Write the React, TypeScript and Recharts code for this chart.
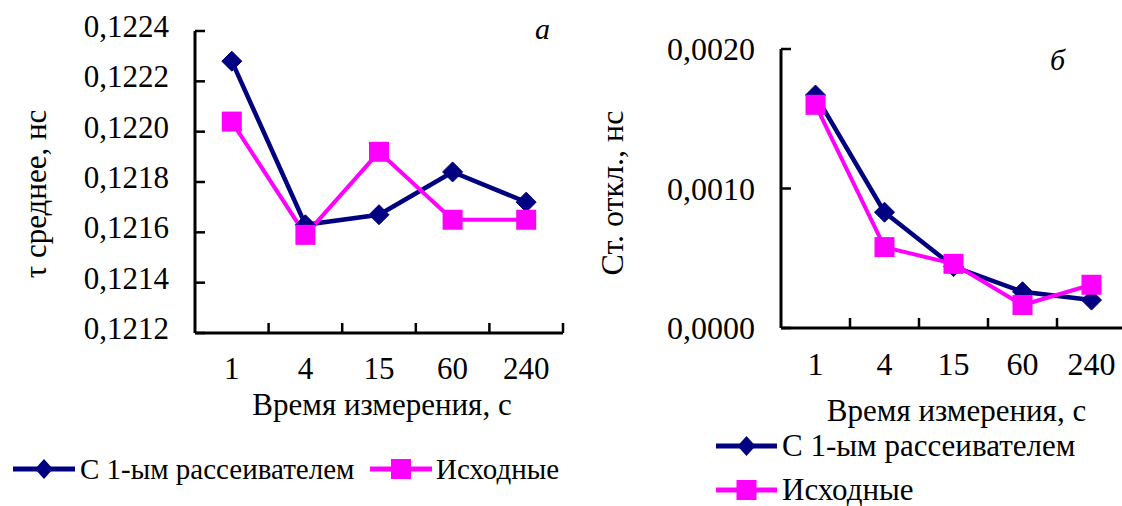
import React from 'react';
import { LineChart, Line, XAxis, YAxis, Legend, Label } from 'recharts';

// ---------- data ----------
const categories = ['1', '4', '15', '60', '240'];
const meanScatter = [0.12228, 0.12163, 0.12167, 0.12184, 0.12172];
const meanOriginal = [0.12204, 0.12159, 0.12192, 0.12165, 0.12165];
const sdScatter = [0.00167, 0.00083, 0.00044, 0.00026, 0.0002];
const sdOriginal = [0.0016, 0.00058, 0.00046, 0.000165, 0.00031];
const meanTicks = [0.1212, 0.1214, 0.1216, 0.1218, 0.122, 0.1222, 0.1224];
const sdTicks = [0, 0.001, 0.002];
const seriesNames = ['С 1-ым рассеивателем', 'Исходные'];
const seriesKeys = ['s', 'o'];
const xTitle = 'Время измерения, с';
const meanTitle = 'τ среднее, нс';
const sdTitle = 'Ст. откл., нс';

const NAVY = '#000080';
const MAGENTA = '#FF00FF';
const FONT = "'Liberation Serif', 'Times New Roman', 'DejaVu Serif', serif";

const meanData = categories.map((c, i) => ({ t: c, s: meanScatter[i], o: meanOriginal[i] }));
const sdData = categories.map((c, i) => ({ t: c, s: sdScatter[i], o: sdOriginal[i] }));

const fmt = (v: number) => v.toFixed(4).replace('.', ',');

const Diamond = (r: number) => (props: any) => {
  const { cx, cy, index } = props;
  if (cx == null || cy == null) return <g key={'d' + index} />;
  return (
    <polygon
      key={'d' + index}
      points={`${cx},${cy - r} ${cx + r},${cy} ${cx},${cy + r} ${cx - r},${cy}`}
      fill={NAVY}
      stroke={NAVY}
      strokeWidth={1}
    />
  );
};

const Square = (h: number) => (props: any) => {
  const { cx, cy, index } = props;
  if (cx == null || cy == null) return <g key={'s' + index} />;
  return <rect key={'s' + index} x={cx - h} y={cy - h} width={2 * h} height={2 * h} fill={MAGENTA} />;
};

type PanelProps = {
  left: number;
  width: number;
  data: any[];
  ticks: number[];
  domain: [number, number];
  yAxisWidth: number;
  margin: { top: number; right: number; bottom: number; left: number };
  tickFont: number;
  tickDy: number;
  xLabelDy: number;
  titleFont: number;
  titleY: number;
  titleDx: number;
  yTitle: string;
  yTitleX: number;
  yTitleY: number;
  yTitleFont: number;
  letter: string;
  letterX: number;
  letterY: number;
  legend: { x1: number; x2: number; textX: number; cy: number }[];
  legendFont: number;
};

const HEIGHT = 506;
const XAXIS_H = 100;

function Panel(p: PanelProps) {
  const plotW = p.width - p.yAxisWidth - p.margin.left - p.margin.right;
  const band = plotW / categories.length;

  const XTick = (props: any) => {
    const { x, y, payload } = props;
    return (
      <g>
        <line x1={x + band / 2} x2={x + band / 2} y1={y} y2={y - 10} stroke="#000" strokeWidth={2.5} />
        <text x={x} y={y + p.xLabelDy} textAnchor="middle" fontFamily={FONT} fontSize={p.tickFont} fill="#000">
          {payload.value}
        </text>
      </g>
    );
  };

  const YTick = (props: any) => {
    const { x, y, payload } = props;
    return (
      <g>
        <line x1={x} x2={x + 10} y1={y} y2={y} stroke="#000" strokeWidth={2.5} />
        <text x={x - 26} y={y + p.tickDy} textAnchor="end" fontFamily={FONT} fontSize={p.tickFont} fill="#000">
          {fmt(payload.value)}
        </text>
      </g>
    );
  };

  const legendContent = (props: any) => {
    const payload = [...(props.payload || [])].sort(
      (a: any, b: any) => seriesKeys.indexOf(a.dataKey) - seriesKeys.indexOf(b.dataKey)
    );
    return (
      <div style={{ position: 'relative', width: p.width, height: HEIGHT }}>
        {payload.map((entry: any, i: number) => {
          const L = p.legend[i];
          const w = L.x2 - L.x1;
          const mid = w / 2;
          const isFirst = entry.dataKey === seriesKeys[0];
          return (
            <div key={i}>
              <svg
                width={w}
                height={30}
                style={{ position: 'absolute', left: L.x1, top: L.cy - 15, overflow: 'visible' }}
              >
                <line x1={0} x2={w} y1={15} y2={15} stroke={entry.color} strokeWidth={5} />
                {isFirst ? (
                  <polygon points={`${mid},5 ${mid + 9},15 ${mid},25 ${mid - 9},15`} fill={NAVY} />
                ) : (
                  <rect x={mid - 10} y={5} width={20} height={20} fill={MAGENTA} />
                )}
              </svg>
              <div
                style={{
                  position: 'absolute',
                  left: L.textX,
                  top: L.cy - 20,
                  height: 40,
                  display: 'flex',
                  alignItems: 'center',
                  fontFamily: FONT,
                  fontSize: p.legendFont,
                  whiteSpace: 'nowrap',
                  color: '#000',
                }}
              >
                {entry.value}
              </div>
            </div>
          );
        })}
      </div>
    );
  };

  return (
    <div style={{ position: 'absolute', left: p.left, top: 0 }}>
      <LineChart width={p.width} height={HEIGHT} data={p.data} margin={p.margin}>
        <XAxis
          dataKey="t"
          scale="band"
          height={XAXIS_H}
          axisLine={{ stroke: '#000', strokeWidth: 3 }}
          tickLine={false}
          tickSize={0}
          tickMargin={0}
          tick={XTick}
          interval={0}
        >
          <Label
            content={(lp: any) => {
              const vb = lp.viewBox || {};
              return (
                <text
                  x={vb.x + vb.width / 2 + p.titleDx}
                  y={p.titleY}
                  textAnchor="middle"
                  fontFamily={FONT}
                  fontSize={p.titleFont}
                  fill="#000"
                >
                  {xTitle}
                </text>
              );
            }}
          />
        </XAxis>
        <YAxis
          type="number"
          domain={p.domain}
          ticks={p.ticks}
          width={p.yAxisWidth}
          allowDataOverflow
          axisLine={{ stroke: '#000', strokeWidth: 3 }}
          tickLine={false}
          tickSize={0}
          tickMargin={0}
          tick={YTick}
          interval={0}
        >
          <Label
            content={() => (
              <text
                x={p.yTitleX}
                y={p.yTitleY}
                transform={`rotate(-90 ${p.yTitleX} ${p.yTitleY})`}
                textAnchor="middle"
                fontFamily={FONT}
                fontSize={p.yTitleFont}
                fill="#000"
              >
                {p.yTitle}
              </text>
            )}
          />
          <Label
            content={() => (
              <text x={p.letterX} y={p.letterY} fontFamily={FONT} fontStyle="italic" fontSize={30} fill="#000">
                {p.letter}
              </text>
            )}
          />
        </YAxis>
        <Legend
          layout="horizontal"
          verticalAlign="middle"
          align="center"
          itemSorter={null as any}
          wrapperStyle={{ left: 0, top: 0, width: p.width, height: HEIGHT, pointerEvents: 'none' }}
          content={legendContent}
        />
        <Line
          dataKey="s"
          name={seriesNames[0]}
          stroke={NAVY}
          strokeWidth={4.5}
          dot={Diamond(10)}
          activeDot={false}
          isAnimationActive={false}
        />
        <Line
          dataKey="o"
          name={seriesNames[1]}
          stroke={MAGENTA}
          strokeWidth={4}
          dot={Square(10)}
          activeDot={false}
          isAnimationActive={false}
        />
      </LineChart>
    </div>
  );
}

export default function App() {
  return (
    <div
      style={{
        position: 'absolute',
        left: 0,
        top: 0,
        width: 1122,
        height: 506,
        overflow: 'hidden',
        background: '#fff',
      }}
    >
      <Panel
        left={0}
        width={580}
        data={meanData}
        ticks={meanTicks}
        domain={[0.1212, 0.1224]}
        yAxisWidth={195}
        margin={{ top: 31, right: 17, bottom: HEIGHT - 333 - XAXIS_H, left: 0 }}
        tickFont={31}
        tickDy={6}
        xLabelDy={46}
        titleFont={31}
        titleY={415}
        titleDx={3}
        yTitle={meanTitle}
        yTitleX={46}
        yTitleY={194}
        yTitleFont={31}
        letter="а"
        letterX={535}
        letterY={39}
        legend={[
          { x1: 13, x2: 75, textX: 80, cy: 469 },
          { x1: 370, x2: 432, textX: 436, cy: 469 },
        ]}
        legendFont={29}
      />
      <Panel
        left={580}
        width={560}
        data={sdData}
        ticks={sdTicks}
        domain={[0, 0.002]}
        yAxisWidth={201}
        margin={{ top: 49, right: 14, bottom: HEIGHT - 328 - XAXIS_H, left: 0 }}
        tickFont={32}
        tickDy={11}
        xLabelDy={47}
        titleFont={31}
        titleY={421}
        titleDx={3}
        yTitle={sdTitle}
        yTitleX={43}
        yTitleY={193}
        yTitleFont={32}
        letter="б"
        letterX={470}
        letterY={70}
        legend={[
          { x1: 136, x2: 197, textX: 202, cy: 446 },
          { x1: 136, x2: 197, textX: 202, cy: 490 },
        ]}
        legendFont={31}
      />
    </div>
  );
}
